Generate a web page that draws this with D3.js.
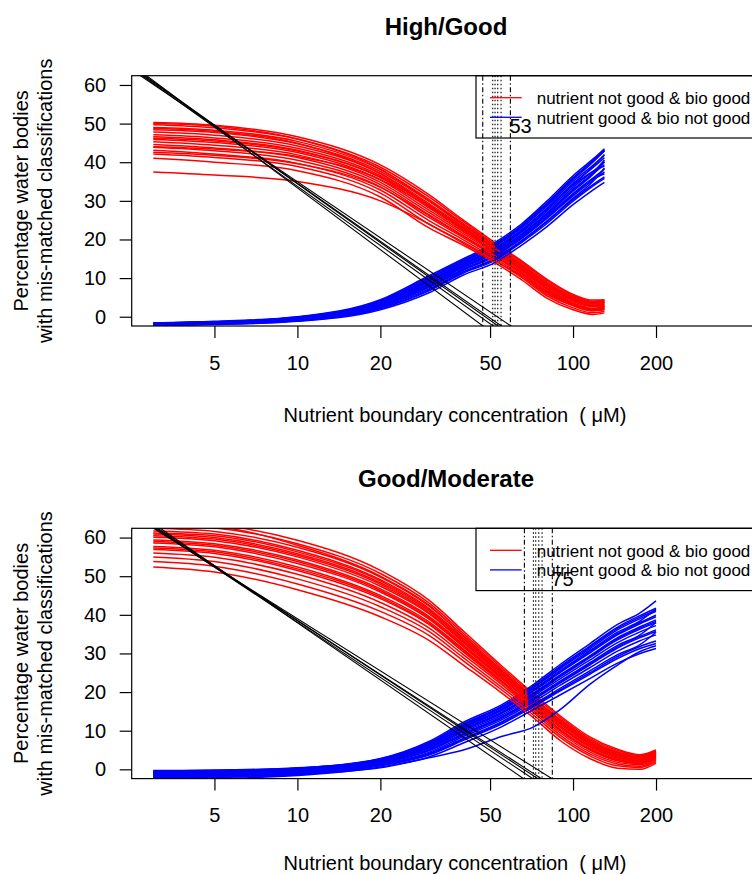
<!DOCTYPE html>
<html><head><meta charset="utf-8">
<script src="https://cdn.jsdelivr.net/npm/d3@7"></script>
<style>html,body{margin:0;padding:0;background:#fff;} svg{display:block;font-family:"Liberation Sans",Arial,Helvetica,sans-serif;} text{white-space:pre;}</style>
</head><body><div id="chart"></div>
<script>
// ---------------- data ----------------
const panelTitles = ["High/Good", "Good/Moderate"];
const xAxisTitle = "Nutrient boundary concentration  ( \u03BCM)";
const yAxisTitle = ["Percentage water bodies", "with mis-matched classifications"];
const legendLabels = ["nutrient not good & bio good", "nutrient good & bio not good"];
const yTicks = [0, 10, 20, 30, 40, 50, 60];
const xTicks = [5, 10, 20, 50, 100, 200];

// x grids (concentration, uM)
const xTop = [3, 5, 10, 20, 30, 40, 52, 65, 80, 100, 118, 130];
const xBottom = [3, 5, 10, 20, 30, 40, 55, 72, 90, 115, 145, 175, 200];

// High/Good: "nutrient not good & bio good" (red)
const redTop = [
  [50.3, 49.6, 46.6, 39.3, 31.6, 25.0, 19.2, 14.5, 9.8, 5.8, 4.3, 4.4],
  [49.7, 48.9, 46.0, 38.7, 31.0, 24.6, 18.8, 14.2, 9.5, 5.5, 4.0, 4.2],
  [50.0, 49.3, 46.0, 38.2, 30.0, 23.8, 18.0, 13.2, 8.4, 4.5, 3.0, 3.4],
  [49.0, 48.3, 45.4, 38.1, 30.4, 24.1, 18.5, 13.8, 9.1, 5.2, 3.8, 3.9],
  [48.8, 48.0, 44.9, 37.0, 28.9, 22.5, 17.0, 12.3, 7.4, 3.6, 2.2, 2.6],
  [48.4, 47.7, 44.8, 37.6, 29.9, 23.7, 18.2, 13.5, 8.8, 5.0, 3.6, 3.7],
  [47.8, 47.0, 44.2, 37.1, 29.3, 23.3, 17.8, 13.2, 8.5, 5.1, 3.9, 4.3],
  [47.1, 46.3, 43.6, 36.5, 28.7, 22.8, 17.4, 12.8, 8.1, 4.4, 3.0, 3.2],
  [46.6, 45.8, 43.1, 36.0, 28.2, 22.4, 17.1, 12.5, 7.8, 4.2, 2.8, 3.0],
  [46.2, 45.5, 42.9, 36.2, 28.9, 23.0, 17.6, 13.0, 8.3, 4.6, 3.3, 3.9],
  [45.9, 45.1, 42.5, 35.4, 27.6, 22.0, 16.8, 12.2, 7.5, 3.9, 2.6, 2.8],
  [45.3, 44.4, 41.9, 34.8, 27.0, 21.5, 16.4, 11.9, 7.2, 3.3, 1.9, 2.9],
  [44.6, 43.7, 41.2, 34.2, 26.4, 21.0, 16.0, 11.5, 6.8, 3.4, 2.0, 2.3],
  [44.0, 43.4, 41.5, 35.5, 28.4, 22.9, 17.7, 13.3, 8.7, 4.9, 3.4, 3.6],
  [43.9, 43.0, 40.5, 33.6, 25.7, 20.5, 15.6, 11.1, 6.4, 3.0, 1.8, 2.1],
  [43.1, 42.1, 39.7, 32.8, 24.9, 19.9, 15.1, 10.7, 6.0, 3.1, 2.0, 2.4],
  [42.6, 41.8, 39.6, 33.5, 26.2, 20.8, 15.8, 11.4, 6.6, 3.2, 1.6, 2.0],
  [42.1, 41.2, 38.9, 32.0, 24.0, 19.3, 14.6, 10.2, 5.5, 2.3, 1.0, 1.4],
  [41.0, 40.0, 37.8, 31.0, 23.0, 18.5, 14.0, 9.6, 4.9, 1.8, 0.6, 1.0],
  [37.5, 36.7, 35.0, 30.0, 24.0, 19.0, 14.5, 10.5, 6.0, 2.8, 1.5, 1.8]
];
// High/Good: "nutrient good & bio not good" (blue)
const blueTop = [
  [-1.6, -1.2, 0.0, 4.4, 10.6, 15.0, 19.2, 24.0, 29.8, 36.5, 40.8, 43.5],
  [-1.6, -1.3, -0.1, 4.2, 10.3, 14.7, 18.8, 23.6, 29.3, 36.0, 40.2, 42.9],
  [-1.7, -1.3, -0.3, 3.8, 9.8, 14.4, 18.6, 23.4, 29.0, 35.8, 40.5, 43.2],
  [-1.7, -1.3, -0.2, 4.0, 10.0, 14.4, 18.5, 23.2, 28.9, 35.5, 40.0, 43.0],
  [-1.7, -1.4, -0.2, 3.9, 9.7, 14.2, 18.2, 22.9, 28.5, 35.0, 39.2, 41.8],
  [-1.8, -1.5, -0.4, 3.6, 9.2, 13.6, 17.6, 22.3, 27.8, 34.2, 38.9, 42.0],
  [-1.8, -1.4, -0.3, 3.7, 9.4, 13.9, 17.8, 22.5, 28.0, 34.5, 38.6, 41.2],
  [-1.8, -1.5, -0.4, 3.5, 9.1, 13.6, 17.4, 22.1, 27.6, 34.0, 37.6, 39.0],
  [-1.8, -1.5, -0.5, 3.4, 8.8, 13.3, 17.1, 21.8, 27.2, 33.5, 37.6, 40.0],
  [-1.9, -1.6, -0.6, 3.2, 8.5, 13.0, 16.8, 21.4, 26.7, 33.0, 37.0, 39.4],
  [-1.9, -1.6, -0.6, 3.1, 8.4, 12.9, 16.6, 21.2, 26.5, 32.8, 37.3, 40.6],
  [-1.9, -1.6, -0.7, 3.0, 8.2, 12.7, 16.4, 21.0, 26.2, 32.5, 36.8, 40.2],
  [-2.0, -1.7, -0.7, 2.8, 7.9, 12.4, 16.0, 20.7, 25.8, 31.9, 35.9, 38.2],
  [-2.0, -1.7, -0.8, 2.7, 7.7, 12.2, 15.8, 20.4, 25.6, 31.6, 35.6, 37.0],
  [-2.0, -1.8, -0.8, 2.6, 7.6, 12.1, 15.6, 20.2, 25.3, 31.3, 35.3, 37.5],
  [-2.1, -1.8, -0.9, 2.4, 7.2, 11.7, 15.1, 19.7, 24.7, 30.7, 35.0, 38.5],
  [-2.1, -1.9, -1.0, 2.2, 6.9, 11.5, 14.9, 19.5, 24.4, 30.3, 34.2, 36.2],
  [-2.1, -1.9, -1.1, 2.1, 6.7, 11.3, 14.6, 19.2, 24.0, 29.9, 33.8, 35.8],
  [-2.2, -2.0, -1.2, 1.8, 6.2, 10.8, 14.0, 18.5, 23.2, 29.0, 32.8, 34.8]
];
// Good/Moderate: red
const redBottom = [
  [64.0, 63.3, 59.3, 51.5, 43.8, 35.8, 26.8, 19.5, 13.8, 8.4, 5.2, 3.8, 5.0],
  [63.6, 62.9, 58.0, 50.0, 42.5, 34.5, 25.7, 18.5, 12.7, 7.5, 4.4, 3.1, 4.5],
  [63.2, 62.5, 58.4, 50.7, 43.1, 35.2, 26.3, 19.1, 13.4, 8.0, 4.9, 3.5, 4.8],
  [62.4, 61.6, 57.5, 49.8, 42.3, 34.6, 25.8, 18.6, 12.9, 7.6, 4.5, 3.3, 4.5],
  [61.7, 60.9, 56.7, 49.1, 41.7, 34.0, 25.4, 18.3, 12.5, 7.3, 4.2, 3.0, 4.3],
  [61.2, 60.5, 56.3, 48.8, 41.4, 33.8, 25.2, 18.1, 12.3, 7.1, 4.0, 2.9, 4.2],
  [60.9, 60.0, 55.8, 48.3, 41.0, 33.4, 24.9, 17.8, 12.1, 6.9, 3.9, 2.8, 4.1],
  [60.5, 59.6, 55.4, 47.9, 40.6, 33.1, 24.7, 17.6, 11.8, 6.7, 3.7, 2.6, 3.9],
  [60.1, 59.2, 55.0, 47.4, 40.3, 32.8, 24.4, 17.4, 11.6, 6.5, 3.5, 2.5, 3.8],
  [59.4, 58.4, 54.2, 46.7, 39.6, 32.3, 24.0, 17.0, 11.2, 6.2, 3.2, 2.3, 3.6],
  [59.0, 58.0, 53.8, 46.3, 39.3, 32.0, 23.8, 16.8, 11.0, 6.0, 3.1, 2.2, 3.5],
  [58.6, 57.6, 53.3, 45.9, 38.9, 31.7, 23.5, 16.6, 10.8, 5.8, 2.9, 2.0, 3.4],
  [57.7, 56.7, 52.4, 45.0, 38.2, 31.1, 23.0, 16.2, 10.3, 5.4, 2.6, 1.8, 3.2],
  [57.3, 56.3, 51.9, 44.6, 37.8, 30.8, 22.8, 16.0, 10.1, 5.2, 2.4, 1.6, 3.0],
  [56.9, 55.9, 51.5, 44.2, 37.5, 30.4, 22.5, 15.7, 9.9, 5.0, 2.2, 1.5, 2.9],
  [56.0, 54.9, 50.5, 43.2, 36.6, 29.7, 22.0, 15.2, 9.4, 4.5, 1.8, 1.2, 2.7],
  [55.0, 53.8, 49.3, 42.1, 35.7, 28.9, 21.3, 14.7, 8.8, 4.0, 1.4, 0.8, 2.4],
  [53.8, 52.6, 48.0, 40.9, 34.7, 28.1, 20.6, 14.0, 8.2, 3.5, 0.9, 0.5, 2.0],
  [52.4, 51.1, 46.5, 39.5, 33.4, 27.0, 19.8, 13.3, 7.4, 2.8, 0.3, 0.0, 1.6]
];
// Good/Moderate: blue
const blueBottom = [
  [-0.3, -0.2, 0.4, 2.8, 7.2, 12.2, 16.7, 22.0, 27.2, 32.5, 37.5, 40.5, 43.6],
  [-0.4, -0.3, 0.3, 2.6, 6.8, 11.6, 16.1, 21.3, 26.4, 31.6, 36.5, 39.4, 41.2],
  [-0.5, -0.4, 0.3, 2.7, 6.9, 11.8, 16.3, 21.6, 26.7, 31.9, 36.8, 39.8, 41.7],
  [-0.6, -0.5, 0.1, 2.5, 6.6, 11.4, 15.9, 21.1, 26.1, 31.2, 36.1, 39.0, 40.9],
  [-0.8, -0.6, 0.0, 2.4, 6.4, 11.1, 15.6, 20.7, 25.6, 30.7, 35.5, 38.4, 41.5],
  [-0.9, -0.7, -0.1, 2.3, 6.2, 10.9, 15.4, 20.5, 25.3, 30.4, 35.1, 38.0, 39.9],
  [-1.0, -0.8, -0.1, 2.2, 6.1, 10.7, 15.2, 20.3, 25.1, 30.1, 34.8, 37.7, 39.5],
  [-1.1, -1.0, -0.3, 2.1, 5.8, 10.4, 14.8, 19.8, 24.5, 29.4, 34.1, 36.9, 38.7],
  [-1.2, -1.0, -0.3, 2.0, 5.7, 10.2, 14.6, 19.6, 24.2, 29.1, 33.8, 36.6, 38.3],
  [-1.3, -1.1, -0.4, 1.9, 5.6, 10.0, 14.4, 19.4, 24.0, 28.9, 33.5, 36.3, 38.0],
  [-1.4, -1.2, -0.5, 1.8, 5.3, 9.7, 14.0, 19.0, 23.5, 28.3, 32.8, 35.6, 37.2],
  [-1.6, -1.4, -0.7, 1.6, 5.0, 9.3, 13.6, 18.5, 22.9, 27.6, 32.1, 34.8, 38.0],
  [-1.7, -1.5, -0.7, 1.6, 4.9, 9.1, 13.4, 18.2, 22.6, 27.3, 31.7, 34.4, 36.1],
  [-1.8, -1.5, -0.8, 1.5, 4.8, 8.9, 13.2, 18.0, 22.4, 27.0, 31.4, 34.1, 35.7],
  [-2.0, -1.7, -1.0, 1.3, 4.4, 8.5, 12.8, 17.5, 21.8, 26.3, 30.6, 33.3, 34.8],
  [-2.2, -1.9, -1.2, 1.1, 4.1, 8.0, 12.3, 16.9, 21.0, 25.5, 29.7, 32.3, 35.5],
  [-2.3, -2.0, -1.3, 1.0, 3.9, 7.8, 12.0, 16.6, 20.6, 25.0, 29.2, 31.8, 33.2],
  [-2.4, -2.1, -1.4, 0.9, 3.7, 7.5, 11.7, 16.3, 20.3, 24.6, 28.7, 31.3, 32.6],
  [-2.7, -2.4, -1.6, 0.6, 3.2, 6.8, 11.0, 15.5, 19.3, 23.5, 27.5, 30.0, 31.3],
  [-2.0, -1.8, -1.2, 0.4, 3.0, 5.0, 8.5, 11.0, 15.5, 22.0, 27.0, 30.5, 32.0]
];

// straight reference lines: x at the two y levels in blackY
const blackY = [66, -6];
const blackTop = [[2.428, 55.06], [2.325, 60.43], [2.374, 63.03], [2.343, 64.94], [2.268, 70.72]];
const blackBottom = [[2.688, 78.21], [2.578, 85.0], [2.609, 88.85], [2.536, 91.83], [2.499, 100.8]];

// vertical boundary lines
const dashTop = [47.03, 59.25];
const dotTop = [51.13, 52.13, 53.3, 54.8];
const dashBottom = [66.6, 84.1];
const dotBottom = [71.8, 73.2, 75.1, 77.2];

// boundary value labels
const markLabels = ["53", "75"];
const markLabelX = [59.25, 84.1];
const markLabelY = [49.4, 49.2];

// ---------------- drawing ----------------
const W = 752, H = 875;
const svg = d3.select("#chart").append("svg")
  .attr("width", W).attr("height", H).attr("viewBox", `0 0 ${W} ${H}`);
svg.append("rect").attr("width", W).attr("height", H).attr("fill", "#fff");

const plotL = 131.7, plotR = 762.3, plotH = 250.3;
const x = d3.scaleLog().domain([2.505, 486]).range([plotL, plotR]);
const defs = svg.append("defs");

const panels = [
  {top: 75.7, xs: xTop, red: redTop, blue: blueTop, black: blackTop, dash: dashTop, dot: dotTop},
  {top: 528.3, xs: xBottom, red: redBottom, blue: blueBottom, black: blackBottom, dash: dashBottom, dot: dotBottom}
];

panels.forEach((p, pi) => {
  const y = d3.scaleLinear().domain([-2.4, 62.4]).range([p.top + plotH, p.top]);
  const clipId = "clip" + pi;
  defs.append("clipPath").attr("id", clipId).append("rect")
    .attr("x", plotL).attr("y", p.top).attr("width", plotR - plotL).attr("height", plotH);
  const g = svg.append("g");
  const plot = g.append("g").attr("clip-path", `url(#${clipId})`);

  const line = d3.line().x((d, i) => x(p.xs[i])).y(d => y(d)).curve(d3.curveMonotoneX);
  const n = Math.max(p.red.length, p.blue.length);
  for (let i = 0; i < n; i++) {
    if (p.red[i]) plot.append("path").attr("d", line(p.red[i]))
      .attr("fill", "none").attr("stroke", "#ff0000").attr("stroke-width", 1.5);
    if (p.blue[i]) plot.append("path").attr("d", line(p.blue[i]))
      .attr("fill", "none").attr("stroke", "#0000ff").attr("stroke-width", 1.5);
  }

  const bl = d3.line().x(d => x(d[0])).y(d => y(d[1]));
  p.black.forEach(xs => {
    plot.append("path").attr("d", bl(xs.map((v, k) => [v, blackY[k]])))
      .attr("fill", "none").attr("stroke", "#000").attr("stroke-width", 1.1);
  });

  p.dash.forEach(v => plot.append("line")
    .attr("x1", x(v)).attr("x2", x(v)).attr("y1", p.top).attr("y2", p.top + plotH)
    .attr("stroke", "#000").attr("stroke-width", 1.1).attr("stroke-dasharray", "5,2.5,1.5,2.5"));
  p.dot.forEach(v => plot.append("line")
    .attr("x1", x(v)).attr("x2", x(v)).attr("y1", p.top).attr("y2", p.top + plotH)
    .attr("stroke", "#000").attr("stroke-width", 1.1).attr("stroke-dasharray", "1.5,2.5"));

  // legend
  const lg = g.append("g");
  lg.append("rect").attr("x", 476).attr("y", p.top).attr("width", 320).attr("height", 62.3)
    .attr("fill", "none").attr("stroke", "#000").attr("stroke-width", 1.2);
  const legColors = ["#ff0000", "#0000ff"];
  legendLabels.forEach((lab, k) => {
    const ly = p.top + 22 + k * 19.6;
    lg.append("line").attr("x1", 490).attr("x2", 521.7).attr("y1", ly).attr("y2", ly)
      .attr("stroke", legColors[k]).attr("stroke-width", 1.3);
    lg.append("text").attr("x", 536.7).attr("y", ly + 6.5).attr("font-size", 17)
      .attr("fill", "#000").text(lab);
  });

  // boundary label
  g.append("text").attr("x", x(markLabelX[pi]) - 1).attr("y", y(markLabelY[pi]) + 7)
    .attr("font-size", 20).attr("fill", "#000").text(markLabels[pi]);

  // box
  g.append("rect").attr("x", plotL).attr("y", p.top).attr("width", plotR - plotL).attr("height", plotH)
    .attr("fill", "none").attr("stroke", "#000").attr("stroke-width", 1.2);

  // axes
  const ax = g.append("g").attr("transform", `translate(0,${p.top + plotH})`)
    .call(d3.axisBottom(x).tickValues(xTicks).tickFormat(d3.format("d")).tickSize(12).tickPadding(17.5).tickSizeOuter(0));
  ax.select(".domain").remove();
  ax.selectAll("text").attr("font-size", 20).attr("font-family", null).attr("fill", "#000");
  ax.selectAll("line").attr("stroke", "#000").attr("stroke-width", 1.2);

  const ay = g.append("g").attr("transform", `translate(${plotL},0)`)
    .call(d3.axisLeft(y).tickValues(yTicks).tickSize(12).tickPadding(13.5).tickSizeOuter(0));
  ay.select(".domain").remove();
  ay.selectAll("text").attr("font-size", 20).attr("font-family", null).attr("fill", "#000");
  ay.selectAll("line").attr("stroke", "#000").attr("stroke-width", 1.2);

  // titles
  g.append("text").attr("x", 446).attr("y", p.top - 41).attr("text-anchor", "middle")
    .attr("font-size", 24).attr("font-weight", "bold").text(panelTitles[pi]);
  g.append("text").attr("x", 455).attr("y", Math.min(p.top + plotH + 96.3, H - 5))
    .attr("text-anchor", "middle").attr("font-size", 20).text(xAxisTitle);
  const cy = p.top + plotH / 2;
  yAxisTitle.forEach((t, k) => {
    g.append("text").attr("transform", `translate(${28 + k * 24},${cy}) rotate(-90)`)
      .attr("text-anchor", "middle").attr("font-size", 20).text(t);
  });
});
</script></body></html>
